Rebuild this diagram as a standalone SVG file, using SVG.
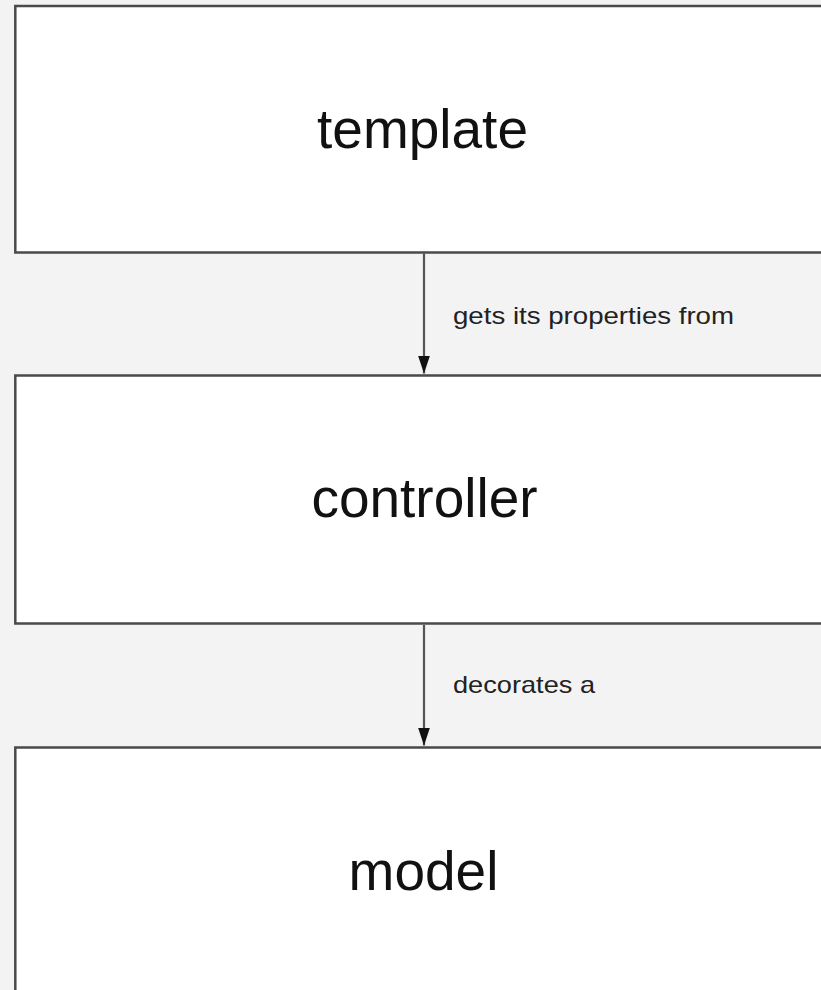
<svg xmlns="http://www.w3.org/2000/svg" width="821" height="990" viewBox="0 0 821 990">
  <style>
    .box { fill: #ffffff; stroke: #4a4a4a; stroke-width: 2.5; }
    .title { font-family: "Liberation Sans", Arial, sans-serif; font-size: 55px; fill: #111111; text-anchor: middle; }
    .label { font-family: "Liberation Sans", Arial, sans-serif; font-size: 24px; fill: #222222; }
    .edge { stroke: #555555; stroke-width: 2.2; fill: none; }
  </style>
  <defs>
    <marker id="arrow" markerWidth="18" markerHeight="12" refX="18" refY="6" orient="auto" markerUnits="userSpaceOnUse" viewBox="0 0 18 12">
      <path d="M0,0 L18,6 L0,12 Z" fill="#111111"/>
    </marker>
  </defs>
  <rect x="0" y="0" width="821" height="990" fill="#f3f3f3"/>

  <g id="node-template">
    <rect class="box" x="15.3" y="6" width="830" height="246.5"/>
    <text class="title" x="422.5" y="148">template</text>
  </g>
  <g id="node-controller">
    <rect class="box" x="15.3" y="375.5" width="830" height="248"/>
    <text class="title" x="424.5" y="517">controller</text>
  </g>
  <g id="node-model">
    <rect class="box" x="15.3" y="747.5" width="830" height="260"/>
    <text class="title" x="423.5" y="890">model</text>
  </g>

  <g id="connectors">
    <line class="edge" x1="424" y1="253.5" x2="424" y2="373.5" marker-end="url(#arrow)"/>
    <text class="label" x="453" y="324" textLength="281" lengthAdjust="spacingAndGlyphs">gets its properties from</text>
    <line class="edge" x1="424" y1="625" x2="424" y2="745.5" marker-end="url(#arrow)"/>
    <text class="label" x="453" y="693" textLength="142" lengthAdjust="spacingAndGlyphs">decorates a</text>
  </g>
</svg>
